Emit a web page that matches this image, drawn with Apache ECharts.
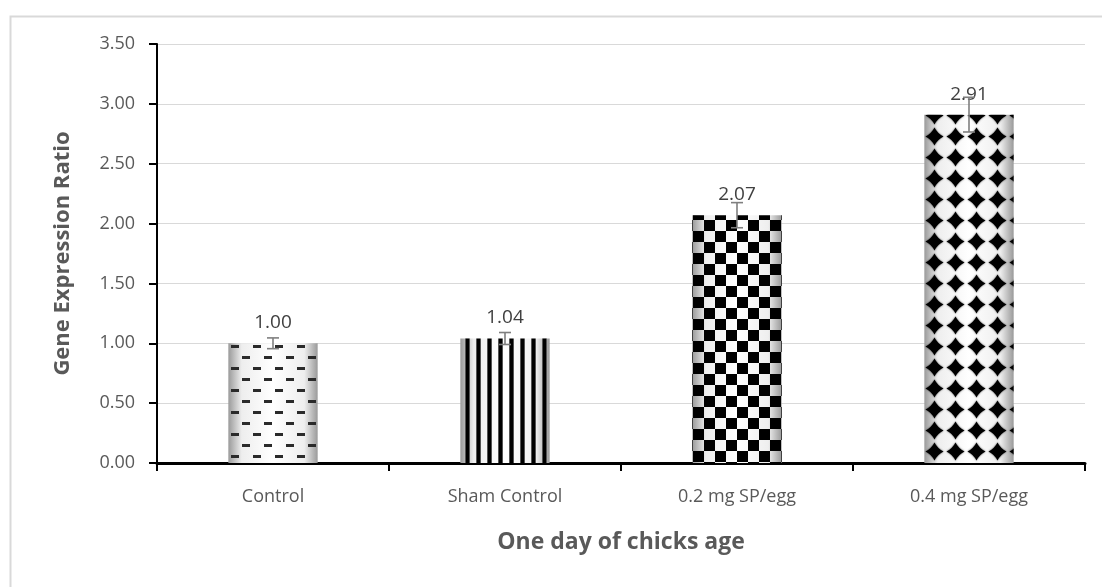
<!DOCTYPE html>
<html>
<head>
<meta charset="utf-8">
<script src="https://cdn.jsdelivr.net/npm/echarts@6/dist/echarts.min.js"></script>
<style>
  html, body { margin: 0; padding: 0; background: #fff; }
  #chart { width: 1102px; height: 587px; }
</style>
</head>
<body>
<div id="chart"></div>
<script>
// data
const categories = ['Control', 'Sham Control', '0.2 mg SP/egg', '0.4 mg SP/egg'];
const ratios = [1.00, 1.04, 2.07, 2.91];
const errors = [0.045, 0.05, 0.105, 0.145];
const yTicks = ['0.00', '0.50', '1.00', '1.50', '2.00', '2.50', '3.00', '3.50'];

// small canvas tiles for the bar fills
function tile(w, h, draw) {
  const c = document.createElement('canvas');
  c.width = w; c.height = h;
  draw(c.getContext('2d'));
  return c;
}

const dashes = tile(22, 22, function (ctx) {
  ctx.fillStyle = '#2a2a2a';
  ctx.fillRect(0, 4, 8, 3);
  ctx.fillRect(11, 15, 8, 3);
});
const stripes = tile(11, 10, function (ctx) {
  ctx.fillStyle = '#555';
  ctx.fillRect(3, 0, 5, 10);
  ctx.fillStyle = '#000';
  ctx.fillRect(4, 0, 3, 10);
});
const checks = tile(22, 22, function (ctx) {
  ctx.fillStyle = '#000';
  ctx.fillRect(0, 0, 11, 11);
  ctx.fillRect(11, 11, 11, 11);
});
const diamonds = tile(21, 21, function (ctx) {
  ctx.fillStyle = '#000';
  ctx.shadowColor = 'rgba(0,0,0,0.7)';
  ctx.shadowBlur = 2;
  ctx.beginPath();
  ctx.moveTo(10.5, 1.5);
  ctx.quadraticCurveTo(13.5, 7.5, 19.5, 10.5);
  ctx.quadraticCurveTo(13.5, 13.5, 10.5, 19.5);
  ctx.quadraticCurveTo(7.5, 13.5, 1.5, 10.5);
  ctx.quadraticCurveTo(7.5, 7.5, 10.5, 1.5);
  ctx.fill();
});
const fills = [dashes, stripes, checks, diamonds];

const shade = {
  type: 'linear', x: 0, y: 0, x2: 1, y2: 0,
  colorStops: [
    { offset: 0, color: '#9a9a9a' },
    { offset: 0.15, color: '#eeeeee' },
    { offset: 0.5, color: '#ffffff' },
    { offset: 0.85, color: '#eeeeee' },
    { offset: 1, color: '#9a9a9a' }
  ]
};

const myChart = echarts.init(document.getElementById('chart'));

const option = {
  animation: false,
  backgroundColor: '#fff',
  textStyle: { fontFamily: 'Open Sans' },
  graphic: [{
    type: 'rect',
    left: 8, top: 14,
    shape: { width: 1200, height: 700 },
    style: { fill: 'none', stroke: '#d9d9d9', lineWidth: 2 },
    silent: true
  }],
  grid: { left: 157, right: 17, top: 44, bottom: 124 },
  xAxis: {
    type: 'category',
    data: categories,
    name: 'One day of chicks age',
    nameLocation: 'middle',
    nameGap: 68,
    nameTextStyle: { fontSize: 23, fontWeight: 'bold', color: '#595959' },
    axisLine: { lineStyle: { color: '#000', width: 3 } },
    axisTick: { show: true, length: 8, lineStyle: { color: '#000', width: 2 } },
    axisLabel: { fontSize: 18, color: '#595959', margin: 25 }
  },
  yAxis: {
    type: 'value',
    min: 0, max: 3.5, interval: 0.5,
    name: 'Gene Expression Ratio',
    nameLocation: 'middle',
    nameGap: 83,
    nameTextStyle: { fontSize: 22, fontWeight: 'bold', color: '#595959' },
    axisLine: { show: true, lineStyle: { color: '#000', width: 2 } },
    axisTick: { show: true, length: 8, lineStyle: { color: '#000', width: 2 } },
    axisLabel: {
      fontSize: 18, color: '#595959', margin: 22,
      formatter: function (v) { return yTicks[Math.round(v / 0.5)]; }
    },
    splitLine: { lineStyle: { color: '#d9d9d9', width: 1 } }
  },
  series: [
    {
      type: 'bar',
      barWidth: '38.5%',
      data: ratios,
      itemStyle: { color: shade },
      silent: true
    },
    {
      type: 'bar',
      barWidth: '38.5%',
      barGap: '-100%',
      data: ratios.map(function (v, i) {
        return { value: v, itemStyle: { color: { image: fills[i], repeat: 'repeat' } } };
      }),
      label: {
        show: true, position: 'top', distance: 11,
        fontSize: 19, color: '#404040',
        formatter: function (p) { return p.value.toFixed(2); }
      },
      silent: true
    },
    {
      type: 'custom',
      z: 10,
      data: ratios.map(function (v, i) { return [i, v - errors[i], v + errors[i]]; }),
      renderItem: function (params, api) {
        const lo = api.coord([api.value(0), api.value(1)]);
        const hi = api.coord([api.value(0), api.value(2)]);
        const cap = 6;
        const st = { stroke: '#7f7f7f', lineWidth: 1.6 };
        return {
          type: 'group',
          children: [
            { type: 'line', shape: { x1: hi[0], y1: hi[1], x2: lo[0], y2: lo[1] }, style: st },
            { type: 'line', shape: { x1: hi[0] - cap, y1: hi[1], x2: hi[0] + cap, y2: hi[1] }, style: st },
            { type: 'line', shape: { x1: lo[0] - cap, y1: lo[1], x2: lo[0] + cap, y2: lo[1] }, style: st }
          ]
        };
      },
      silent: true
    }
  ]
};

myChart.setOption(option);
</script>
</body>
</html>
